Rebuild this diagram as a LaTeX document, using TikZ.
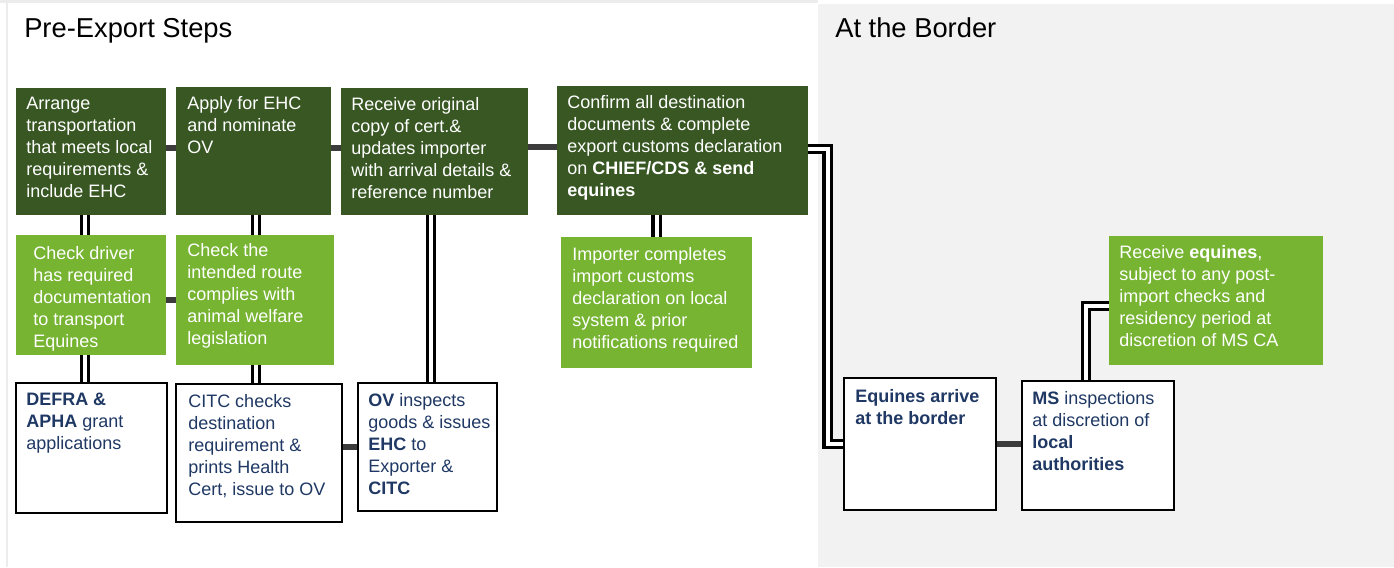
\documentclass[tikz,border=0pt]{standalone}
\usepackage{fontspec}
\setmainfont{Liberation Sans}
\usetikzlibrary{calc}
\definecolor{dkgreen}{RGB}{56,87,35}
\definecolor{ltgreen}{RGB}{118,180,50}
\definecolor{navy}{RGB}{31,56,100}
\definecolor{conngray}{RGB}{60,60,60}
\definecolor{bggray}{RGB}{242,242,242}
\definecolor{edgegray}{RGB}{236,236,236}
\pgfdeclarelayer{bg}
\pgfdeclarelayer{conn}
\pgfsetlayers{bg,conn,main}
\newcommand\bx[6]{\node[#2, anchor=north west, inner sep=0pt, outer sep=0pt,
  minimum width={0.75pt*(#5-#3)}, minimum height={0.75pt*(#6-#4)}] (#1) at (#3,#4) {};}
\newcommand\tx[5]{\node[#2, anchor=north west, inner sep=0pt, align=left] (#1) at (#3,#4) {#5};}
\begin{document}
\begin{tikzpicture}[x=0.75pt, y=-0.75pt,
  dkbox/.style={fill=dkgreen},
  ltbox/.style={fill=ltgreen},
  whbox/.style={fill=white, draw=black, line width=1.5pt},
  wtxt/.style={text=white, font=\fontsize{13.5}{16.5}\selectfont},
  ntxt/.style={text=navy, font=\fontsize{13.5}{16.5}\selectfont},
  title/.style={font=\fontsize{20.5}{24}\selectfont, text=black, inner sep=0pt, anchor=base west},
  solidlink/.style={draw=conngray, line width=4.5pt},
  dbl/.style={draw=black, line width=2.3pt, double=white, double distance=3pt, line cap=butt}]
\useasboundingbox (0,0) rectangle (1394,567);
\begin{pgfonlayer}{bg}
  \fill[white] (0,0) rectangle (1394,567);
  \fill[bggray] (818,4) rectangle (1394,567);
  \draw[edgegray, line width=2.2pt] (0,1.5) -- (818,1.5);
  \draw[edgegray, line width=1.5pt] (7,3) -- (7,567);
\end{pgfonlayer}
\node[title] (t1) at (24,38) {Pre-Export Steps};
\node[title] (t2) at (835,38) {At the Border};
% dark green row
\bx{A1}{dkbox}{16}{88}{166}{215}
\bx{A2}{dkbox}{176}{87}{331}{215}
\bx{A3}{dkbox}{341}{88}{528}{215}
\bx{A4}{dkbox}{557}{86}{808}{215}
% light green
\bx{B1}{ltbox}{16}{235}{166}{355}
\bx{B2}{ltbox}{176}{235}{334}{365}
\bx{B3}{ltbox}{561}{237}{752}{368}
\bx{B4}{ltbox}{1109}{236}{1323}{365}
% white
\bx{C1}{whbox}{16}{383}{167}{513}
\bx{C2}{whbox}{176}{384}{342}{522}
\bx{C3}{whbox}{358}{383}{497}{511}
\bx{C4}{whbox}{844}{378}{996}{510}
\bx{C5}{whbox}{1022}{381}{1174}{510}
% texts
\tx{A1t}{wtxt}{26}{97}{Arrange\\transportation\\that meets local\\requirements \&\\include EHC}
\tx{A2t}{wtxt}{187}{96}{Apply for EHC\\and nominate\\OV}
\tx{A3t}{wtxt}{351}{97}{Receive original\\copy of cert.\&\\updates importer\\with arrival details \&\\reference number}
\tx{A4t}{wtxt}{567}{95}{Confirm all destination\\documents \& complete\\export customs declaration\\on \textbf{CHIEF/CDS \& send}\\\textbf{equines}}
\tx{B1t}{wtxt}{33}{246}{Check driver\\has required\\documentation\\to transport\\Equines}
\tx{B2t}{wtxt}{187}{243}{Check the\\intended route\\complies with\\animal welfare\\legislation}
\tx{B3t}{wtxt}{572}{247}{Importer completes\\import customs\\declaration on local\\system \& prior\\notifications required}
\tx{B4t}{wtxt}{1119}{245}{Receive \textbf{equines},\\subject to any post-\\import checks and\\residency period at\\discretion of MS CA}
\tx{C1t}{ntxt}{26}{393}{\textbf{DEFRA \&}\\\textbf{APHA} grant\\applications}
\tx{C2t}{ntxt}{188}{394}{CITC checks\\destination\\requirement \&\\prints Health\\Cert, issue to OV}
\tx{C3t}{ntxt}{368}{393}{\textbf{OV} inspects\\goods \& issues\\\textbf{EHC} to\\Exporter \&\\\textbf{CITC}}
\tx{C4t}{ntxt}{855}{389}{\textbf{Equines arrive}\\\textbf{at the border}}
\tx{C5t}{ntxt}{1032}{391}{\textbf{MS} inspections\\at discretion of\\\textbf{local}\\\textbf{authorities}}
% connectors
\begin{pgfonlayer}{conn}
  \draw[solidlink] ([yshift=2.6pt]A1.east) -- ([yshift=2.6pt]A1.east -| A2.west);
  \draw[solidlink] ([yshift=2.3pt]A2.east) -- ([yshift=2.3pt]A2.east -| A3.west);
  \draw[solidlink] ([yshift=3.4pt]A3.east) -- ([yshift=3.4pt]A3.east -| A4.west);
  \draw[solidlink] (B1.east |- B2.west) -- (B2.west);
  \draw[solidlink] (C2.east |- C3.west) -- (C3.west);
  \draw[solidlink] (C4.east) -- (C4.east -| C5.west);
  \draw[dbl] ([xshift=-4.5pt]A1.south) -- ([xshift=-4.5pt]A1.south |- B1.north);
  \draw[dbl] ([xshift=-4.5pt]B1.south) -- ([xshift=-4.5pt]B1.south |- C1.north);
  \draw[dbl] ([xshift=1.9pt]A2.south) -- ([xshift=1.9pt]A2.south |- B2.north);
  \draw[dbl] ([xshift=1pt]B2.south) -- ([xshift=1pt]B2.south |- C2.north);
  \draw[dbl] ([xshift=-2.6pt]A3.south) -- ([xshift=-2.6pt]A3.south |- C3.north);
  \draw[dbl] (B3.north |- A4.south) -- (B3.north);
  \draw[dbl] ([yshift=1pt]A4.east) -- ++(19.5,0) coordinate (elb) |- (C4.west);
  \draw[dbl] ([xshift=-9pt]C5.north) |- ([yshift=-4pt]B4.west);
\end{pgfonlayer}
\end{tikzpicture}
\end{document}
